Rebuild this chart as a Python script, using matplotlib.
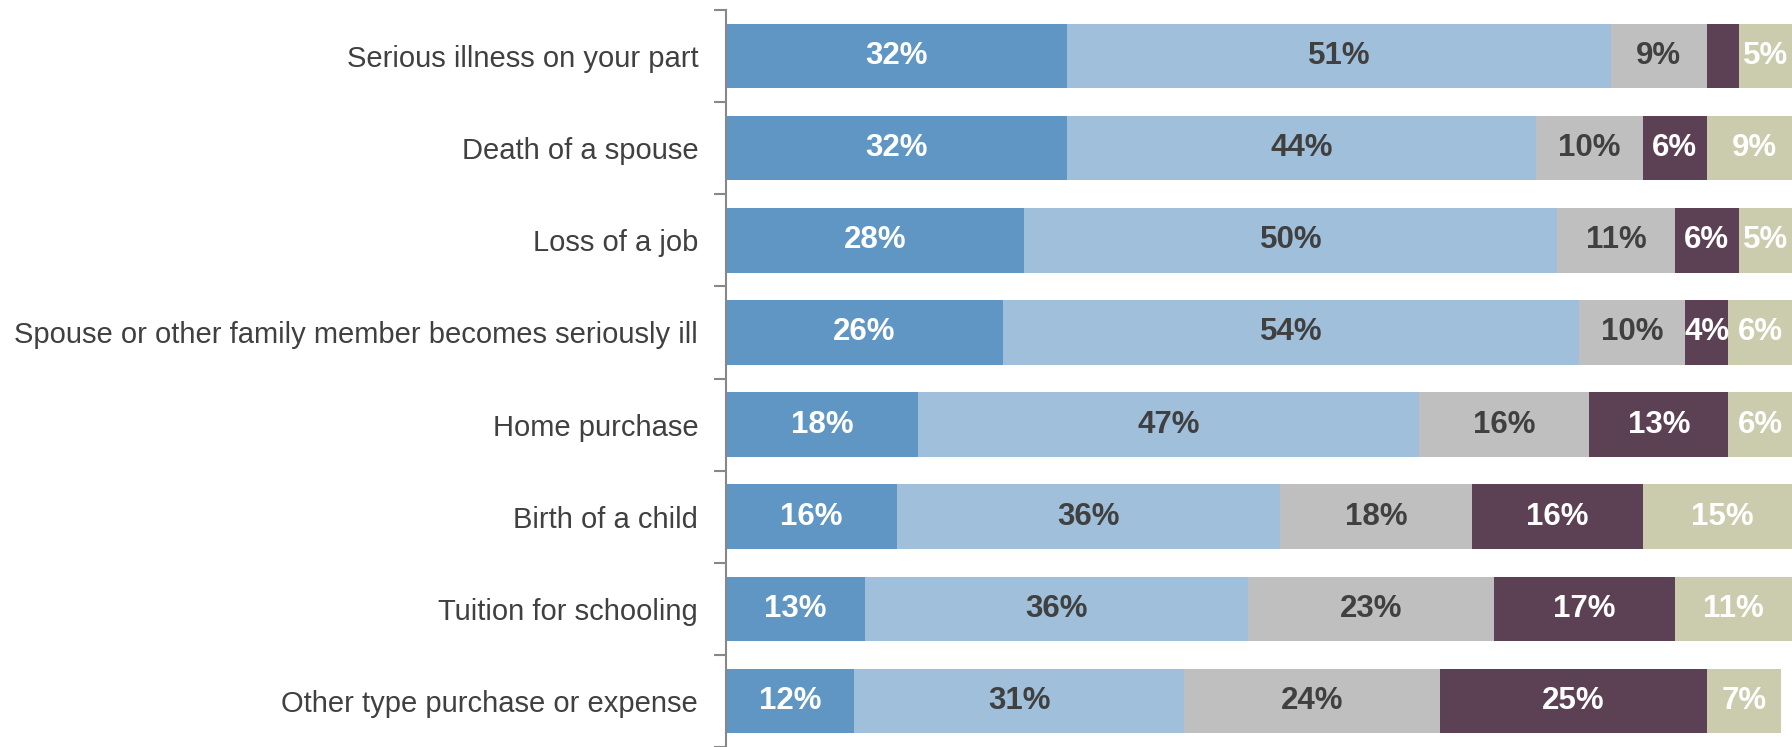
import matplotlib
matplotlib.use("Agg")
import matplotlib.pyplot as plt
import numpy as np

plt.rcParams['font.family'] = ['Liberation Sans', 'DejaVu Sans']

# life events, top to bottom
events = ["Serious illness on your part",
          "Death of a spouse",
          "Loss of a job",
          "Spouse or other family member becomes seriously ill",
          "Home purchase",
          "Birth of a child",
          "Tuition for schooling",
          "Other type purchase or expense"]

# share of answers per segment (%)
seg1 = [32, 32, 28, 26, 18, 16, 13, 12]
seg2 = [51, 44, 50, 54, 47, 36, 36, 31]
seg3 = [9, 10, 11, 10, 16, 18, 23, 24]
seg4 = [3, 6, 6, 4, 13, 16, 17, 25]
seg5 = [5, 9, 5, 6, 6, 15, 11, 7]

segments = [seg1, seg2, seg3, seg4, seg5]
colors = ["#6096c3", "#a0bfdb", "#bfbfbf", "#5c4053", "#cbccad"]
text_colors = ["white", "#404040", "#404040", "white", "white"]

fig = plt.figure(figsize=(17.92, 7.47), dpi=100)
ax = fig.add_axes([726/1792, 0.0, 1 - 726/1792, 1 - 10/747])

y = np.arange(len(events))
left = np.zeros(len(events))
for vals, col, tcol in zip(segments, colors, text_colors):
    vals = np.array(vals, dtype=float)
    bars = ax.barh(y, vals, left=left, height=0.70, color=col, edgecolor="none")
    for bar, v in zip(bars, vals):
        # tiny slices get no label
        if v < 4:
            continue
        ax.text(bar.get_x() + bar.get_width()/2, bar.get_y() + bar.get_height()/2,
                f"{int(v)}%", ha="center", va="center", color=tcol,
                fontsize=22.5, fontweight="bold")
    left += vals

ax.set_xlim(0, 100)
ax.set_ylim(len(events) - 0.5, -0.5)
ax.set_yticks(y)
ax.set_yticklabels(events, fontsize=21, color="#404040")
ax.set_yticks(np.arange(len(events) + 1) - 0.5, minor=True)
ax.tick_params(axis="y", which="major", length=0, pad=20)
ax.tick_params(axis="y", which="minor", length=9, width=1.5, color="#888888")
ax.set_xticks([])

for side in ["top", "right", "bottom"]:
    ax.spines[side].set_visible(False)
ax.spines["left"].set_color("#888888")
ax.spines["left"].set_linewidth(1.5)

fig.savefig("out.png", dpi=100)
